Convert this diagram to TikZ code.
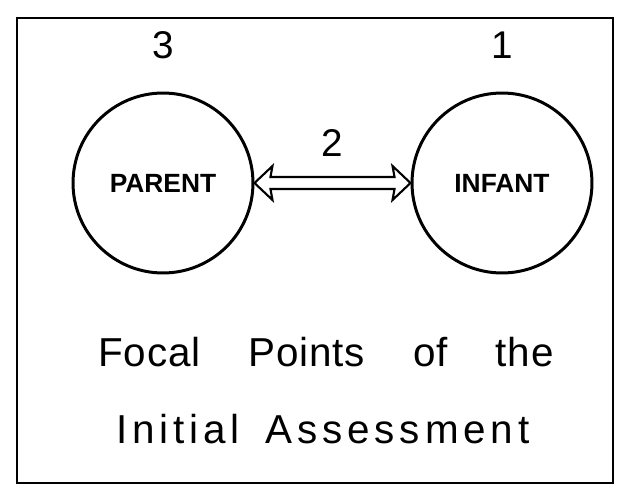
\documentclass[tikz,border=0pt]{standalone}
\usepackage{fontspec}
\setmainfont{Liberation Sans}
\newfontfamily\capfonta[LetterSpace=2,WordSpace=4]{Liberation Sans}
\newfontfamily\capfontb[LetterSpace=12,WordSpace=1.6]{Liberation Sans}
\usetikzlibrary{arrows.meta, positioning, calc}
\tikzset{
  circ/.style={circle, draw, line width=1.7pt, minimum size=3.6cm, inner sep=0pt, font=\bfseries\fontsize{15}{18}\selectfont},
  lnk/.style={draw, line width=1.2pt, line join=miter},
  num/.style={font=\fontsize{22}{26}\selectfont, inner sep=0pt},
  capt/.style={font=\fontsize{23}{28}\selectfont, inner sep=0pt, anchor=base}
}
\begin{document}
\begin{tikzpicture}[x=0.02cm, y=-0.02cm]
		\useasboundingbox (0,0) rectangle (630,501);
		\draw[line width=1.1pt] (17,18) rectangle (613,483);
		% the two circles
		\node[circ] (par) at (163,183) {PARENT};
		\node[circ] (inf) at (502,183) {INFANT};
		\node[num] (n3) at (163,45) {3};
		\node[num] (n1) at (502,45) {1};
		% hollow double arrow
		\draw[lnk] (par.east) -- ++(18,-17) -- ++(-2,11) -- ($(inf.west)+(-16,-6)$) -- ++(-2,-11)
			-- (inf.west) -- ++(-18,17) -- ++(2,-11) -- ($(par.east)+(16,6)$) -- ++(2,11) -- cycle;
		\path (par) -- node[num, above=15pt] (n2) {2} (inf);
		% caption
		\node[capt] (c1) at (326,366) {\capfonta Focal Points of the};
		\node[capt] (c2) at (323,443) {\capfontb Initial Assessment};
	\end{tikzpicture}
\end{document}
